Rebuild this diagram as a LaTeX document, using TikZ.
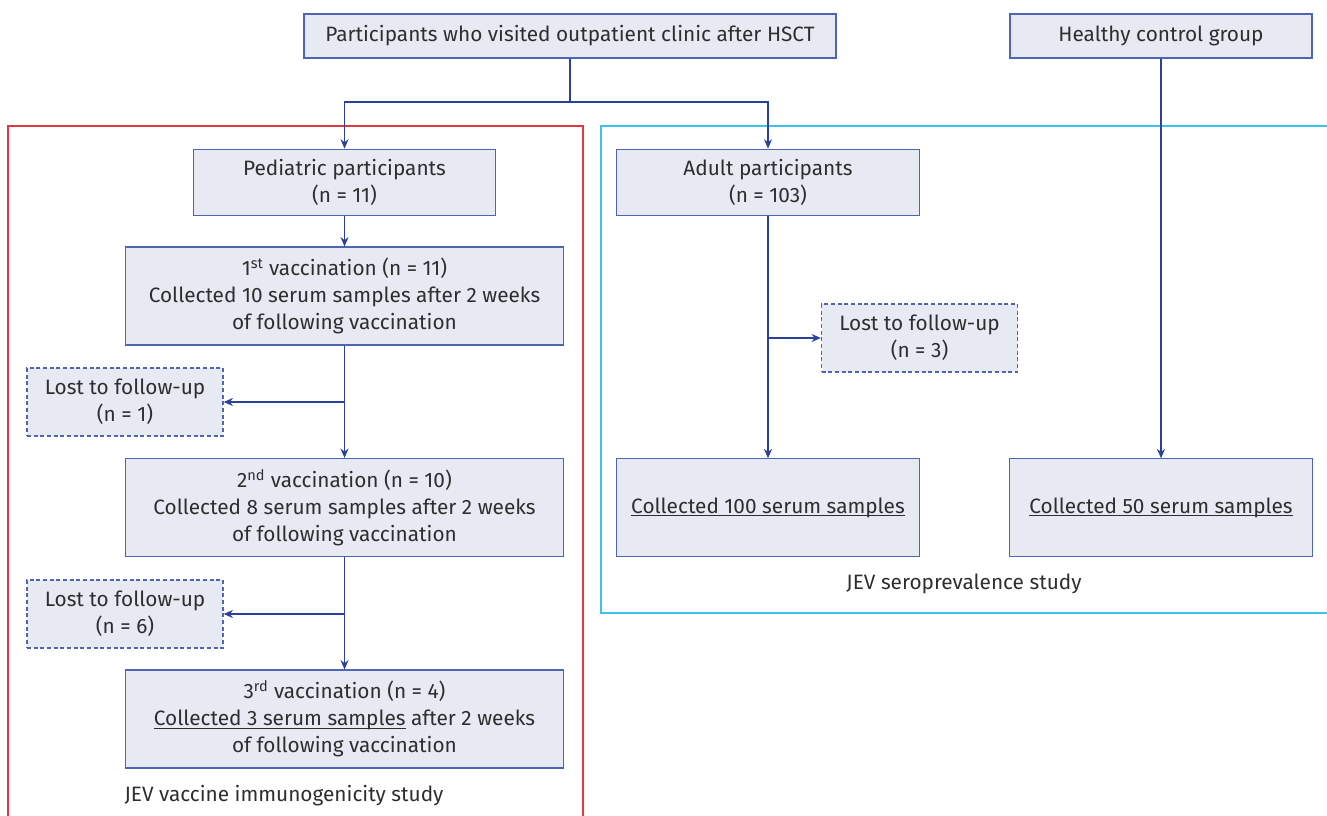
\documentclass[tikz,border=0pt]{standalone}
\usepackage{fontspec}
\usepackage{tikz}
\usepackage{xcolor}
\usetikzlibrary{arrows.meta}
\setmainfont{Fira Sans}
\definecolor{boxfill}{HTML}{E8EAF3}
\definecolor{boxline}{HTML}{4D65B3}
\definecolor{arrline}{HTML}{2B409A}
\definecolor{txt}{HTML}{2E2E2E}
\definecolor{frameA}{HTML}{E2383E}
\definecolor{frameB}{HTML}{3CC3EA}
\newcommand{\lineunder}[1]{\setbox0\hbox{#1}\rlap{\rule[-2.2pt]{\wd0}{0.6pt}}\box0\relax}

\begin{document}
\begin{tikzpicture}[x=0.75pt,y=-0.75pt,
    every node/.style={font=\fontsize{15.6}{20.2}\selectfont,text=txt,align=center,inner sep=0pt},
    box/.style={draw=boxline,fill=boxfill,line width=0.9pt},
    lostbox/.style={box,dash pattern=on 3pt off 2pt},
    arr/.style={draw=arrline,line width=0.9pt,-{Stealth[length=7pt,width=6pt]}}]
        \useasboundingbox (0,0) rectangle (1327,816);
        % Study frames
        \draw[frameA,line width=0.9pt] (8,816) |- (583,126) -- (583,816);
        \draw[frameB,line width=0.9pt] (1327,126) -| (601,613) -- (1327,613);
        % Top row
        \node[box,minimum width=399pt,minimum height=33pt] (top) at (570,36) {Participants who visited outpatient clinic after HSCT};
        \node[box,minimum width=226.5pt,minimum height=33pt] (healthy) at (1161,36) {Healthy control group};
        \coordinate (split) at (570,102);
        % Pediatric branch
        \node[box,minimum width=227pt,minimum height=50pt] (ped) at (344.5,182.5) {Pediatric participants\\(n = 11)};
        \node[box,minimum width=329pt,minimum height=73.5pt] (vac1) at (344.5,296) {1\textsuperscript{st} vaccination (n = 11)\\Collected 10 serum samples after 2 weeks\\of following vaccination};
        \node[lostbox,minimum width=147pt,minimum height=51pt] (lost1) at (125,402) {Lost to follow-up\\(n = 1)};
        \node[box,minimum width=329pt,minimum height=73.5pt] (vac2) at (344.5,507.5) {2\textsuperscript{nd} vaccination (n = 10)\\Collected 8 serum samples after 2 weeks\\of following vaccination};
        \node[lostbox,minimum width=147pt,minimum height=51pt] (lost2) at (125,614) {Lost to follow-up\\(n = 6)};
        \node[box,minimum width=329pt,minimum height=73.5pt] (vac3) at (344.5,719) {3\textsuperscript{rd} vaccination (n = 4)\\\lineunder{Collected 3 serum samples} after 2 weeks\\of following vaccination};
        \node (studyA) at (284,796) {JEV vaccine immunogenicity study};
        % Adult branch
        \node[box,minimum width=227pt,minimum height=50pt] (adult) at (768,182.5) {Adult participants\\(n = 103)};
        \node[lostbox,minimum width=147pt,minimum height=51pt] (lost3) at (919.5,338) {Lost to follow-up\\(n = 3)};
        \node[box,minimum width=227pt,minimum height=73pt] (coll100) at (768,507.5) {\lineunder{Collected 100 serum samples}};
        \node[box,minimum width=227pt,minimum height=73pt] (coll50) at (1161,507.5) {\lineunder{Collected 50 serum samples}};
        \node (studyB) at (964,584) {JEV seroprevalence study};
        % Arrows
        \draw[arr] (top.south) -- (split) -| (ped.north);
        \draw[arr] (split) -| (adult.north);
        \draw[arr] (ped) -- (vac1);
        \draw[arr] (vac1) -- (vac2);
        \draw[arr] (vac1.south |- lost1.east) -- (lost1.east);
        \draw[arr] (vac2) -- (vac3);
        \draw[arr] (vac2.south |- lost2.east) -- (lost2.east);
        \draw[arr] (adult) -- (coll100);
        \draw[arr] (adult.south |- lost3.west) -- (lost3.west);
        \draw[arr] (healthy) -- (coll50);
\end{tikzpicture}
\end{document}
